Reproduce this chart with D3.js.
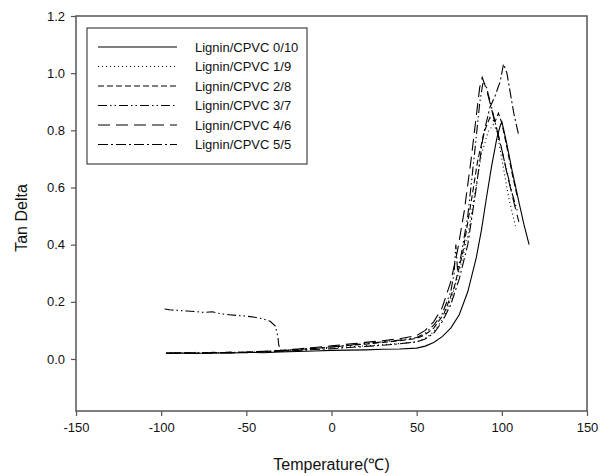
<!DOCTYPE html>
<html>
<head>
<meta charset="utf-8">
<script src="https://cdn.jsdelivr.net/npm/d3@7/dist/d3.min.js"></script>
<style>
  body { margin: 0; background: #fff; }
  text { font-family: Arial, "Liberation Sans", sans-serif; }
</style>
</head>
<body>
<script>
// legend labels
var labels = ["Lignin/CPVC 0/10", "Lignin/CPVC 1/9", "Lignin/CPVC 2/8",
              "Lignin/CPVC 3/7", "Lignin/CPVC 4/6", "Lignin/CPVC 5/5"];

// tick values
var xTicks = [-150, -100, -50, 0, 50, 100, 150];
var yTicks = [0.0, 0.2, 0.4, 0.6, 0.8, 1.0, 1.2];

// [temperature, tan delta]
var s0_10 = [[-97,0.020],[-90,0.021],[-80,0.019],[-70,0.022],[-60,0.020],[-50,0.023],[-40,0.022],[-30,0.025],
  [-20,0.026],[-10,0.028],[0,0.030],[10,0.031],[20,0.032],[30,0.034],[40,0.035],[50,0.038],[55,0.045],
  [60,0.058],[65,0.078],[70,0.108],[75,0.155],[80,0.235],[85,0.355],[88,0.450],[91,0.565],[94,0.675],
  [97,0.770],[99,0.815],[100,0.830],[101,0.805],[103,0.750],[106,0.660],[110,0.550],[113,0.470],[116,0.400]];

var s1_9 = [[-97,0.022],[-90,0.020],[-80,0.023],[-70,0.021],[-60,0.024],[-50,0.023],[-40,0.026],[-30,0.028],
  [-20,0.031],[-10,0.034],[0,0.038],[10,0.042],[20,0.046],[30,0.050],[40,0.054],[50,0.060],[55,0.072],
  [60,0.095],[66,0.145],[71,0.225],[76,0.330],[80,0.430],[84,0.575],[88,0.715],[92,0.795],[95,0.820],
  [97,0.800],[100,0.700],[104,0.565],[108,0.465]];

var s2_8 = [[-97,0.019],[-90,0.022],[-80,0.020],[-70,0.023],[-60,0.022],[-50,0.024],[-40,0.026],[-30,0.029],
  [-20,0.033],[-10,0.037],[0,0.042],[10,0.047],[20,0.052],[30,0.058],[40,0.064],[50,0.072],[55,0.085],
  [60,0.108],[66,0.158],[72,0.250],[77,0.370],[82,0.550],[86,0.700],[90,0.800],[93,0.845],[96,0.830],
  [98,0.860],[100,0.825],[103,0.740],[106,0.650],[109,0.570]];

var s3_7 = [[-98,0.175],[-95,0.172],[-90,0.170],[-85,0.168],[-80,0.166],[-75,0.163],[-70,0.165],[-65,0.158],
  [-60,0.155],[-55,0.152],[-50,0.150],[-45,0.146],[-40,0.140],[-36,0.132],[-33,0.115],[-31.5,0.080],
  [-31,0.050],[-30,0.030],[-20,0.033],[-10,0.037],[0,0.042],[10,0.048],[20,0.054],[30,0.060],[40,0.066],
  [50,0.075],[55,0.090],[60,0.118],[65,0.158],[70,0.235],[72,0.300],[73,0.400],[74,0.310],[76,0.360],
  [80,0.500],[84,0.720],[87,0.895],[89,0.970],[91,0.950],[94,0.880],[98,0.780],[102,0.680],[106,0.580],[109,0.520]];

var s4_6 = [[-97,0.021],[-90,0.019],[-80,0.022],[-70,0.021],[-60,0.023],[-50,0.024],[-40,0.027],[-30,0.030],
  [-20,0.035],[-10,0.040],[0,0.046],[10,0.052],[20,0.058],[30,0.064],[40,0.071],[50,0.082],[55,0.100],
  [60,0.130],[65,0.180],[70,0.270],[74,0.380],[78,0.520],[82,0.700],[85,0.850],[87,0.950],[88.5,0.985],
  [90,0.960],[92,0.920],[95,0.850],[99,0.760],[103,0.650],[107,0.550],[110,0.480]];

var s5_5 = [[-97,0.020],[-90,0.022],[-80,0.021],[-70,0.020],[-60,0.023],[-50,0.022],[-40,0.025],[-30,0.027],
  [-20,0.030],[-10,0.033],[0,0.036],[10,0.040],[20,0.044],[30,0.048],[40,0.053],[50,0.060],[55,0.070],
  [60,0.090],[65,0.130],[70,0.190],[75,0.280],[80,0.400],[85,0.600],[89,0.780],[93,0.880],[96,0.920],
  [99,0.970],[101,1.032],[103,1.000],[105,0.930],[107,0.860],[110,0.780]];

var series = [s0_10, s1_9, s2_8, s3_7, s4_6, s5_5];
var dashes = ["none", "1,3", "6,3", "9,3,1.5,3,1.5,3", "12,6", "10,3,2,3"];

var width = 610, height = 476;
var mLeft = 76, mRight = 587, mTop = 16, mBottom = 411;

var svg = d3.select("body").append("svg")
    .attr("width", width)
    .attr("height", height);

var x = d3.scaleLinear().domain([-150, 150]).range([mLeft, mRight]);
var y = d3.scaleLinear().domain([-0.182, 1.2]).range([mBottom, mTop]);

// frame
svg.append("rect")
    .attr("x", mLeft).attr("y", mTop)
    .attr("width", mRight - mLeft).attr("height", mBottom - mTop)
    .attr("fill", "none").attr("stroke", "#555").attr("stroke-width", 1.5);

// axes
var xAxis = svg.append("g")
    .attr("transform", "translate(0," + mBottom + ")")
    .call(d3.axisBottom(x).tickValues(xTicks).tickSize(5).tickPadding(7)
        .tickFormat(function(d){ return String(d); }));
var yAxis = svg.append("g")
    .attr("transform", "translate(" + mLeft + ",0)")
    .call(d3.axisLeft(y).tickValues(yTicks).tickSize(5).tickPadding(6)
        .tickFormat(function(d){ return d.toFixed(1); }));

[xAxis, yAxis].forEach(function(g){
    g.select(".domain").remove();
    g.selectAll("line").attr("stroke", "#555").attr("stroke-width", 1.2);
    g.selectAll("text").attr("font-size", 13).attr("fill", "#111")
        .style("font-family", "Arial, 'Liberation Sans', sans-serif");
});

// axis titles
svg.append("text")
    .attr("x", (mLeft + mRight) / 2).attr("y", 470)
    .attr("text-anchor", "middle").attr("font-size", 16).attr("fill", "#111")
    .text("Temperature(℃)");
svg.append("text")
    .attr("transform", "translate(27,218) rotate(-90)")
    .attr("text-anchor", "middle").attr("font-size", 16).attr("fill", "#111")
    .text("Tan Delta");

// curves
var line = d3.line()
    .x(function(d){ return x(d[0]); })
    .y(function(d){ return y(d[1]); });

series.forEach(function(s, i){
    svg.append("path")
        .datum(s)
        .attr("d", line)
        .attr("fill", "none")
        .attr("stroke", "#000")
        .attr("stroke-width", 1.1)
        .attr("stroke-dasharray", dashes[i]);
});

// legend
var lg = svg.append("g");
lg.append("rect")
    .attr("x", 87).attr("y", 28).attr("width", 220).attr("height", 136)
    .attr("fill", "#fff").attr("stroke", "#444").attr("stroke-width", 1.2);

labels.forEach(function(l, i){
    var yy = 47 + i * 19.5;
    lg.append("line")
        .attr("x1", 98).attr("x2", 177).attr("y1", yy).attr("y2", yy)
        .attr("stroke", "#000").attr("stroke-width", 1.1)
        .attr("stroke-dasharray", dashes[i]);
    lg.append("text")
        .attr("x", 195).attr("y", yy + 4.5)
        .attr("font-size", 13).attr("fill", "#111")
        .text(l);
});
</script>
</body>
</html>
